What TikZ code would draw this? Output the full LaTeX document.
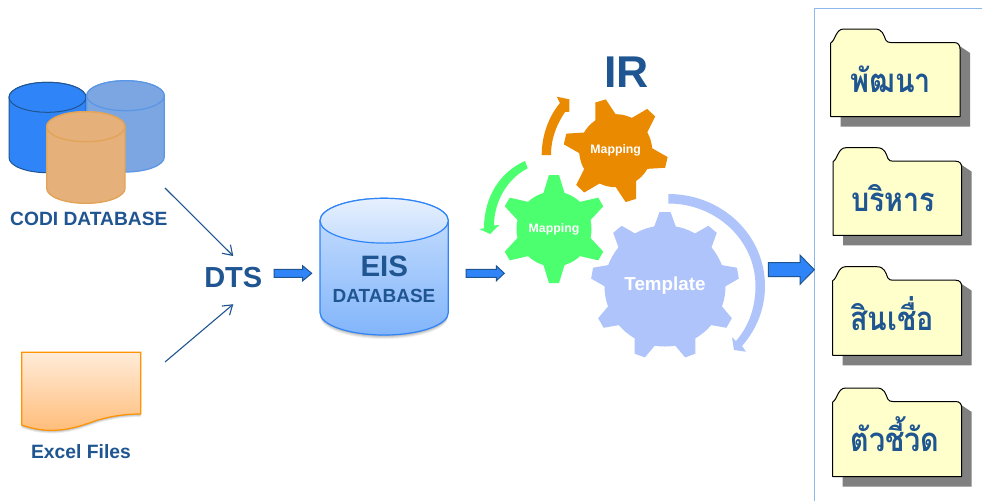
\documentclass[tikz,border=0pt]{standalone}
\usepackage{fontspec}
\setmainfont{Liberation Sans}
\newfontfamily\thaifont[Script=Thai]{Loma}
\usetikzlibrary{arrows.meta,calc}
\definecolor{inkblue}{HTML}{1F5591}
\definecolor{midblue}{HTML}{2F84F8}
\definecolor{softblue}{HTML}{7BA6E2}
\definecolor{softblueline}{HTML}{5A96E6}
\definecolor{sand}{HTML}{E6B07A}
\definecolor{sandline}{HTML}{E2A458}
\definecolor{gearorange}{HTML}{E98A00}
\definecolor{geargreen}{HTML}{4CFF6E}
\definecolor{gearblue}{HTML}{AEC4FA}
\definecolor{folderfill}{HTML}{FFFFCC}
\definecolor{panelline}{HTML}{8DB8EE}
\newcommand{\fsz}[1]{\fontsize{#1}{#1}\selectfont\bfseries}
\tikzset{
  lbl/.style={inner sep=0pt,text=inkblue},
  gearlbl/.style={inner sep=0pt,text=white},
  thin arrow/.style={draw=inkblue,line width=1.1pt,-{Straight Barb[length=9pt,width=12pt]}},
  block/.style={draw=inkblue,fill=midblue,line width=1pt,line join=miter},
  foldertext/.style={anchor=base,inner sep=0pt,text=inkblue,xscale=.87},
}
\newcommand{\cylinder}[7]{%
  \pgfmathsetmacro\cyxm{(#1+#2)/2}\pgfmathsetmacro\cyrx{(#2-#1)/2}%
  \pgfmathsetmacro\cymid{#3+#4}\pgfmathsetmacro\cylo{#5-#4}%
  \pgfmathsetmacro\cykx{.5523*\cyrx}\pgfmathsetmacro\cyky{.5523*#4}%
  \path[#6] (#1,\cymid) -- (#1,\cylo)
    .. controls (#1,\cylo+\cyky) and (\cyxm-\cykx,#5) .. (\cyxm,#5)
    .. controls (\cyxm+\cykx,#5) and (#2,\cylo+\cyky) .. (#2,\cylo)
    -- (#2,\cymid)
    .. controls (#2,\cymid-\cyky) and (\cyxm+\cykx,#3) .. (\cyxm,#3)
    .. controls (\cyxm-\cykx,#3) and (#1,\cymid-\cyky) .. (#1,\cymid) -- cycle;
  \path[#7] (#1,\cymid)
    .. controls (#1,\cymid-\cyky) and (\cyxm-\cykx,#3) .. (\cyxm,#3)
    .. controls (\cyxm+\cykx,#3) and (#2,\cymid-\cyky) .. (#2,\cymid)
    .. controls (#2,\cymid+\cyky) and (\cyxm+\cykx,\cymid+#4) .. (\cyxm,\cymid+#4)
    .. controls (\cyxm-\cykx,\cymid+#4) and (#1,\cymid+\cyky) .. (#1,\cymid) -- cycle;
}
\newcommand{\geartooth}[8]{%
  \begin{scope}[shift={(#1,#2)},rotate=-#6]
    \fill[#5] (#3-3,-#7) -- (#4,-#8) -- (#4,#8) -- (#3-3,#7) -- cycle;
  \end{scope}}
\newcommand{\blockarrow}[5]{%
  \draw[block] ([yshift=#3]#1) -- ([xshift=-#4,yshift=#3]#2) -- ([xshift=-#4,yshift=#5]#2) -- (#2)
    -- ([xshift=-#4,yshift=-#5]#2) -- ([xshift=-#4,yshift=-#3]#2) -- ([yshift=-#3]#1) -- cycle;}
\newcommand{\folder}[4]{%
  \begin{scope}[shift={(#1,#2)}]
    \fill[black!50] (10,42) -- (10,#4+10) -- (#3+10,#4+10) -- (#3+10,24) -- (#3-5,14) -- cycle;
    \draw[fill=folderfill,draw=black,line width=1pt,line join=round]
      (0,#4) -- (0,14) .. controls (5,11) and (5,0) .. (13,0) -- (44,0)
      .. controls (52,0) and (53,6) .. (55,11) .. controls (56,13) and (58,13.5) .. (60,13.5)
      -- (#3-6,13.5) .. controls (#3-2,13.5) and (#3,16) .. (#3,20) -- (#3,#4) -- cycle;
  \end{scope}}
\begin{document}
\begin{tikzpicture}[x=1pt,y=-1pt]
\useasboundingbox (0,0) rectangle (982,501);
\fill[white] (0,0) rectangle (982,501);

% panel
\draw[panelline,line width=1.2pt] (982,8.7) -- (814.5,8.7) -- (814.5,501);

% CODI cylinders
\cylinder{9}{86}{82.3}{15}{172.7}{fill=midblue,draw=inkblue,line width=1pt}{fill=midblue,draw=inkblue,line width=1pt}
\cylinder{86.7}{164.3}{80.7}{15}{172}{fill=softblue,draw=softblueline,line width=1.2pt}{fill=softblue,draw=softblueline,line width=1.2pt}
\cylinder{46.7}{125}{111.7}{15}{203.3}{fill=sand,draw=sandline,line width=1.4pt}{fill=sand,draw=sandline,line width=1.4pt}
\node[lbl] (codi) at (88.8,219.3) {\fsz{19.2}CODI DATABASE};

% Excel document
\foreach \s/\o in {3/.07,2/.1,1/.12}{
  \fill[black,opacity=\o] (21.7,425+\s) .. controls (55,437+\s) and (80,426+\s) .. (98,420+\s) .. controls (112,416+\s) and (125,414+\s) .. (140.7,414+\s) -- (140.7,410) -- (21.7,410) -- cycle;
}
\draw[top color=orange!15!white,bottom color=orange!55!white,draw=orange!85!yellow,line width=1.2pt]
  (21.7,352.3) -- (140.7,352.3) -- (140.7,414) .. controls (125,414) and (112,416) .. (98,420)
  .. controls (80,426) and (55,437) .. (21.7,425) -- cycle;
\node[lbl] (excel) at (81,452) {\fsz{19.3}Excel Files};

% DTS
\node[lbl,anchor=base,inner xsep=0pt,inner ysep=10.5pt] (dts) at (233.3,287) {\fsz{29}\rule[-6.5pt]{0pt}{1pt}DTS};
\coordinate (codiout) at (165,188);
\coordinate (excelout) at (165,362);
\draw[thin arrow] (codiout) -- (dts.north);
\draw[thin arrow] (excelout) -- (dts.south);

% EIS cylinder
\foreach \s/\o in {4/.06,3/.07,2/.09,1/.1}{
  \cylinder{320}{448.3}{210}{22.4}{335+\s}{fill=black,opacity=\o}{opacity=0}
}
\cylinder{320}{448.3}{198.3}{22.4}{335}{top color=midblue!25!white,bottom color=midblue!60!white,draw=midblue,line width=1.2pt}{top color=midblue!12!white,bottom color=midblue!28!white,draw=midblue,line width=1.2pt}
\node[lbl] (eis) at (384.3,266.7) {\fsz{29.5}EIS};
\node[lbl] (eisdb) at (384,296) {\fsz{19}DATABASE};

% block arrows
\coordinate (dtsout) at (274,273.3);
\coordinate (eisin) at (311.7,273.3);
\coordinate (eisout) at (466,273.3);
\coordinate (gearin) at (504.3,273.3);
\coordinate (tplout) at (768.3,269.7);
\coordinate (panelin) at (814.3,269.7);
\blockarrow{dtsout}{eisin}{4pt}{9pt}{7.5pt}
\blockarrow{eisout}{gearin}{4pt}{8pt}{7.5pt}
\blockarrow{tplout}{panelin}{7pt}{14.3pt}{14.6pt}

% gears
\fill[gearorange] (615.7,150.7) circle[radius=36.5pt];
\foreach \a in {13,73,...,313}{\geartooth{615.7}{150.7}{36.5}{52}{gearorange}{\a}{11}{5.5}}
\fill[geargreen] (554,229) circle[radius=37.5pt];
\foreach \a in {30,90,...,330}{\geartooth{554}{229}{37.5}{54}{geargreen}{\a}{11}{5}}
\fill[gearblue] (665,286) circle[radius=60.5pt];
\foreach \a in {30,70,...,350}{\geartooth{665}{286}{60.5}{74}{gearblue}{\a}{11.5}{5.5}}
\node[gearlbl] (map1) at (615.7,150.7) {\fsz{12.3}Mapping};
\node[gearlbl] (map2) at (554,229) {\fsz{12.3}Mapping};
\node[gearlbl] (tpl) at (665,285.7) {\fsz{18.8}Template};
\node[lbl] (ir) at (626.8,71.7) {\fsz{44.5}IR};

% curved arrows
\fill[gearorange] (541.7,155) .. controls (541.7,135) and (549,116) .. (560,103)
  -- (556.7,96.7) -- (569.3,99.3) -- (569.3,111.7) -- (565,112)
  .. controls (557,124) and (551,138) .. (551,155) -- cycle;
\fill[geargreen] (525,161) .. controls (500,172) and (484,197) .. (484,228.3)
  -- (479.3,229) -- (490,234) -- (499.3,225) -- (494,225.5)
  .. controls (494,201) and (508,178) .. (527.7,168.3) -- cycle;
\fill[gearblue] (668.3,194) .. controls (722,194) and (765,235) .. (765,286)
  .. controls (765,308) and (757,329) .. (742,346)
  -- (746,351.7) -- (734,350) -- (732,337.3) -- (736,341)
  .. controls (749,326) and (755.5,307) .. (755.5,286)
  .. controls (755.5,240) and (716,203.5) .. (668.3,203.5) -- cycle;

% folders
\folder{830.7}{29}{129.3}{87.7}
\folder{833}{147.7}{128.7}{87.6}
\folder{832.7}{266.7}{129}{88.6}
\folder{832.7}{388}{129}{88.7}
\node[foldertext] (f1) at (890.7,92.3) {\thaifont\fsz{33}พัฒนา};
\node[foldertext] (f2) at (893.3,211) {\thaifont\fsz{33}บริหาร};
\node[foldertext] (f3) at (892.2,330) {\thaifont\fsz{33}สินเชื่อ};
\node[foldertext] (f4) at (895,451.7) {\thaifont\fsz{33}ตัวชี้วัด};
\end{tikzpicture}
\end{document}
